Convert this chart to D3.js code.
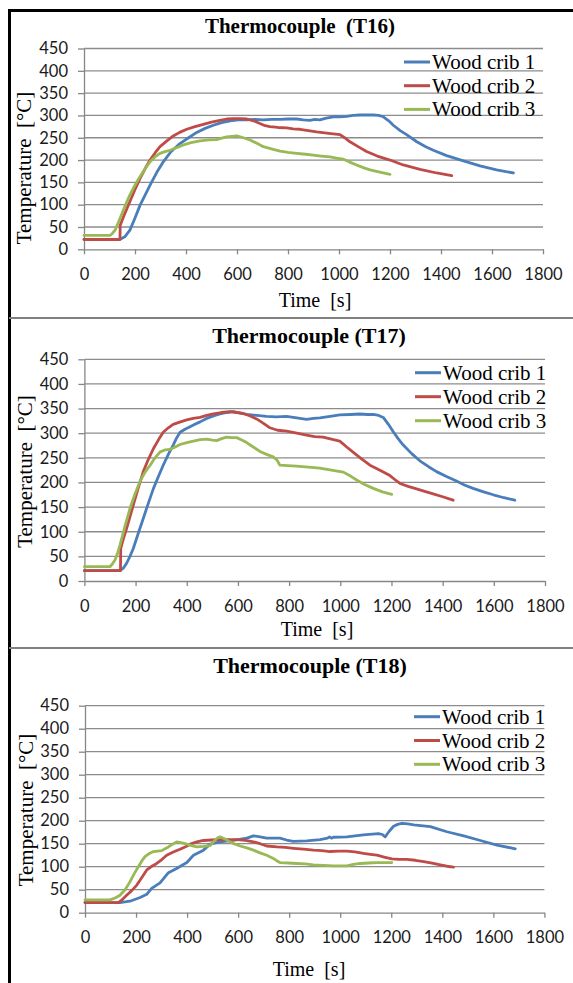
<!DOCTYPE html>
<html>
<head>
<meta charset="utf-8">
<script src="https://cdn.jsdelivr.net/npm/d3@7"></script>
<style>
  body { margin: 0; background: #fff; }
  .tick text { font-family: Lato, "Open Sans", sans-serif; font-size: 16.5px; fill: #1a1a1a; }
  .serif { font-family: "Liberation Serif", "DejaVu Serif", serif; fill: #000; }
</style>
</head>
<body>
<svg id="chart"></svg>
<script>
// Data: [time s, temperature °C]
const timeTicks = [0, 200, 400, 600, 800, 1000, 1200, 1400, 1600, 1800];
const tempTicks = [0, 50, 100, 150, 200, 250, 300, 350, 400, 450];
const seriesNames = ["Wood crib 1", "Wood crib 2", "Wood crib 3"];
const seriesColors = ["#4a7ebb", "#be4b48", "#98b954"];
const panelTitles = ["Thermocouple  (T16)", "Thermocouple (T17)", "Thermocouple (T18)"];

const t16Crib1 = [[0,22],[140,22],[160,28],[180,43],[200,70],[220,99],[240,122],[259,144],[285,172],[311,196],[340,218],[376,237],[410,250],[442,262],[475,271],[507,278],[540,284],[573,288],[605,290],[638,290],[670,291],[703,290],[736,291],[769,291],[800,292],[834,292],[860,290],[886,289],[905,291],[925,290],[950,294],[978,297],[1004,297],[1030,298],[1056,300],[1082,301],[1110,301],[1135,301],[1155,300],[1174,297],[1195,288],[1213,278],[1240,266],[1265,257],[1305,241],[1340,230],[1370,222],[1422,210],[1488,198],[1553,187],[1618,178],[1684,171]];
const t16Crib2 = [[0,22],[141,22],[142,54],[160,80],[180,107],[200,134],[220,159],[240,181],[259,200],[280,217],[298,230],[325,243],[350,254],[375,262],[403,269],[435,275],[468,280],[500,285],[533,289],[560,292],[586,293],[612,293],[638,292],[665,288],[690,282],[710,277],[729,275],[760,273],[795,272],[820,270],[847,269],[880,266],[912,263],[960,260],[1004,257],[1022,250],[1043,241],[1075,230],[1108,219],[1150,209],[1200,200],[1252,189],[1318,179],[1383,171],[1442,165]];
const t16Crib3 = [[0,31],[102,31],[112,36],[122,43],[131,55],[141,69],[160,96],[180,122],[200,144],[220,163],[240,181],[259,196],[278,207],[298,215],[318,219],[337,222],[365,228],[390,234],[420,239],[455,243],[490,245],[520,246],[540,249],[560,252],[580,253],[599,254],[625,250],[651,245],[680,237],[703,230],[735,225],[769,220],[800,217],[834,215],[870,213],[899,211],[930,209],[965,207],[995,204],[1017,202],[1040,196],[1069,189],[1095,183],[1122,178],[1160,173],[1200,168]];

const t17Crib1 = [[0,21],[139,21],[152,26],[165,36],[178,50],[191,66],[210,96],[230,127],[250,158],[270,188],[290,213],[308,235],[328,257],[347,276],[360,290],[374,302],[393,308],[413,313],[432,318],[452,323],[478,330],[504,335],[530,339],[556,342],[582,344],[608,341],[634,338],[673,336],[712,334],[750,333],[790,334],[830,331],[868,328],[895,330],[920,331],[960,334],[998,337],[1040,338],[1076,339],[1105,338],[1129,338],[1150,336],[1168,332],[1188,318],[1207,303],[1226,289],[1246,276],[1280,258],[1311,244],[1345,232],[1376,222],[1415,212],[1454,203],[1485,195],[1519,188],[1560,181],[1598,175],[1640,169],[1682,164]];
const t17Crib2 = [[0,21],[141,21],[142,66],[152,85],[165,107],[178,130],[191,154],[210,188],[230,222],[250,247],[270,269],[290,287],[308,302],[328,311],[347,318],[375,323],[400,327],[425,330],[452,332],[478,336],[504,339],[535,342],[569,344],[595,342],[621,340],[648,335],[673,329],[700,320],[725,311],[755,306],[790,304],[830,300],[868,296],[900,293],[933,292],[965,288],[998,284],[1025,272],[1051,261],[1083,248],[1116,235],[1155,225],[1194,214],[1213,206],[1233,198],[1265,192],[1298,187],[1330,182],[1363,177],[1400,171],[1441,164]];
const t17Crib3 = [[0,29],[100,29],[110,35],[120,43],[130,57],[139,73],[158,110],[178,147],[198,177],[218,203],[237,221],[257,235],[276,250],[296,262],[315,266],[335,267],[355,272],[374,277],[400,281],[426,284],[452,287],[478,288],[500,286],[517,285],[536,289],[556,292],[575,291],[595,291],[615,286],[634,281],[660,272],[686,263],[712,257],[738,252],[752,246],[764,235],[795,234],[829,233],[875,231],[920,229],[965,225],[1012,221],[1040,213],[1064,205],[1095,196],[1129,188],[1165,181],[1201,176]];

const t18Crib1 = [[0,22],[137,22],[176,25],[216,33],[242,40],[261,53],[294,65],[327,87],[359,96],[399,109],[425,125],[464,136],[490,149],[529,154],[581,157],[634,162],[660,167],[686,165],[712,162],[764,162],[790,158],[816,155],[869,156],[921,159],[950,162],[958,165],[966,162],[973,164],[1026,165],[1091,169],[1150,172],[1165,170],[1176,165],[1192,177],[1209,188],[1225,192],[1242,194],[1265,193],[1288,191],[1353,187],[1418,176],[1484,167],[1549,157],[1614,147],[1686,139]];
const t18Crib2 = [[0,22],[131,22],[147,29],[163,38],[183,48],[203,60],[222,76],[242,93],[262,101],[281,107],[300,115],[320,125],[346,132],[372,138],[392,143],[412,149],[438,154],[464,157],[497,158],[529,159],[562,159],[595,159],[628,157],[660,154],[686,150],[712,145],[752,143],[785,142],[817,140],[856,138],[895,136],[928,135],[960,133],[993,134],[1026,134],[1058,132],[1091,129],[1118,127],[1144,125],[1172,121],[1202,117],[1231,116],[1261,116],[1294,114],[1327,111],[1360,108],[1392,104],[1418,101],[1444,99]];
const t18Crib3 = [[0,28],[98,28],[118,32],[137,38],[157,50],[176,67],[193,85],[209,100],[222,112],[235,122],[250,128],[268,133],[285,134],[301,135],[314,139],[327,143],[343,149],[359,154],[380,152],[399,149],[418,146],[438,143],[465,144],[490,146],[500,152],[510,158],[520,163],[529,165],[549,160],[568,154],[588,149],[608,145],[634,141],[660,136],[686,130],[712,125],[738,118],[751,113],[764,109],[797,108],[830,107],[862,106],[895,104],[934,103],[973,102],[1000,102],[1026,102],[1052,105],[1078,107],[1111,108],[1144,109],[1172,109],[1202,109]];

const panelSeries = [
    [t16Crib1, t16Crib2, t16Crib3],
    [t17Crib1, t17Crib2, t17Crib3],
    [t18Crib1, t18Crib2, t18Crib3]
];

// Layout of each panel in page pixels
const layout = [
    { x0: 84, x1: 543, yTop: 48.5, yBot: 249.3, titleX: 300, titleY: 33, titleSize: 21,
      yLabX: 31, yLabY: 168, xLabX: 315, xLabY: 307, legX: 404, legY: 62, legGap: 23.7 },
    { x0: 84.4, x1: 545, yTop: 359.3, yBot: 581, titleX: 309, titleY: 343, titleSize: 22,
      yLabX: 32, yLabY: 471.5, xLabX: 317, xLabY: 636, legX: 415, legY: 372.7, legGap: 24 },
    { x0: 85, x1: 544.4, yTop: 705.7, yBot: 912.7, titleX: 310, titleY: 673, titleSize: 22,
      yLabX: 33, yLabY: 810, xLabX: 309, xLabY: 976, legX: 414, legY: 716.7, legGap: 23.8 }
];

const width = 573, height = 983;
const svg = d3.select("#chart").attr("width", width).attr("height", height);
svg.append("rect").attr("width", width).attr("height", height).attr("fill", "#fff");

// Frame and separators
svg.append("line").attr("x1", 8).attr("x2", width).attr("y1", 10.5).attr("y2", 10.5)
    .attr("stroke", "#000").attr("stroke-width", 3);
svg.append("line").attr("x1", 9.5).attr("x2", 9.5).attr("y1", 9).attr("y2", height)
    .attr("stroke", "#000").attr("stroke-width", 3);
[318, 648].forEach(y => {
    svg.append("line").attr("x1", 9).attr("x2", width).attr("y1", y).attr("y2", y)
        .attr("stroke", "#808080").attr("stroke-width", 2);
});

panelSeries.forEach((series, i) => {
    const L = layout[i];
    const x = d3.scaleLinear().domain([0, 1800]).range([L.x0, L.x1]);
    const y = d3.scaleLinear().domain([0, 450]).range([L.yBot, L.yTop]);
    const g = svg.append("g");

    // Horizontal gridlines
    g.append("g").selectAll("line")
        .data(tempTicks.slice(1))
        .join("line")
        .attr("x1", L.x0).attr("x2", L.x1)
        .attr("y1", d => y(d)).attr("y2", d => y(d))
        .attr("stroke", "#8c8c8c").attr("stroke-width", 1.3);

    // Axes
    const yAxis = g.append("g")
        .attr("transform", `translate(${L.x0},0)`)
        .call(d3.axisLeft(y).tickValues(tempTicks).tickFormat(d3.format("d"))
            .tickSize(6).tickPadding(10).tickSizeOuter(0));
    const xAxis = g.append("g")
        .attr("transform", `translate(0,${L.yBot})`)
        .call(d3.axisBottom(x).tickValues(timeTicks).tickFormat(d3.format("d"))
            .tickSize(5).tickPadding(14).tickSizeOuter(0));
    [yAxis, xAxis].forEach(ax => {
        ax.select(".domain").attr("stroke", "#868686").attr("stroke-width", 1.3);
        ax.selectAll(".tick line").attr("stroke", "#868686").attr("stroke-width", 1.3);
    });

    // Series lines
    const line = d3.line().x(d => x(d[0])).y(d => y(d[1]));
    g.append("g").selectAll("path")
        .data(series)
        .join("path")
        .attr("d", line)
        .attr("fill", "none")
        .attr("stroke", (d, j) => seriesColors[j])
        .attr("stroke-width", 2.8)
        .attr("stroke-linejoin", "round")
        .attr("stroke-linecap", "round");

    // Legend
    const leg = g.append("g").selectAll("g")
        .data(seriesNames)
        .join("g")
        .attr("transform", (d, j) => `translate(${L.legX},${L.legY + j * L.legGap})`);
    leg.append("line").attr("x1", 0).attr("x2", 26)
        .attr("stroke", (d, j) => seriesColors[j]).attr("stroke-width", 3);
    leg.append("text").attr("class", "serif")
        .attr("x", 28).attr("y", 7)
        .attr("font-size", 21)
        .text(d => d);

    // Titles
    g.append("text").attr("class", "serif")
        .attr("x", L.titleX).attr("y", L.titleY)
        .attr("text-anchor", "middle")
        .attr("font-size", L.titleSize).attr("font-weight", "bold")
        .attr("xml:space", "preserve")
        .text(panelTitles[i]);
    g.append("text").attr("class", "serif")
        .attr("transform", `translate(${L.yLabX},${L.yLabY}) rotate(-90)`)
        .attr("text-anchor", "middle")
        .attr("font-size", 21)
        .attr("xml:space", "preserve")
        .text("Temperature  [°C]");
    g.append("text").attr("class", "serif")
        .attr("x", L.xLabX).attr("y", L.xLabY)
        .attr("text-anchor", "middle")
        .attr("font-size", 20)
        .attr("xml:space", "preserve")
        .text("Time  [s]");
});
</script>
</body>
</html>
